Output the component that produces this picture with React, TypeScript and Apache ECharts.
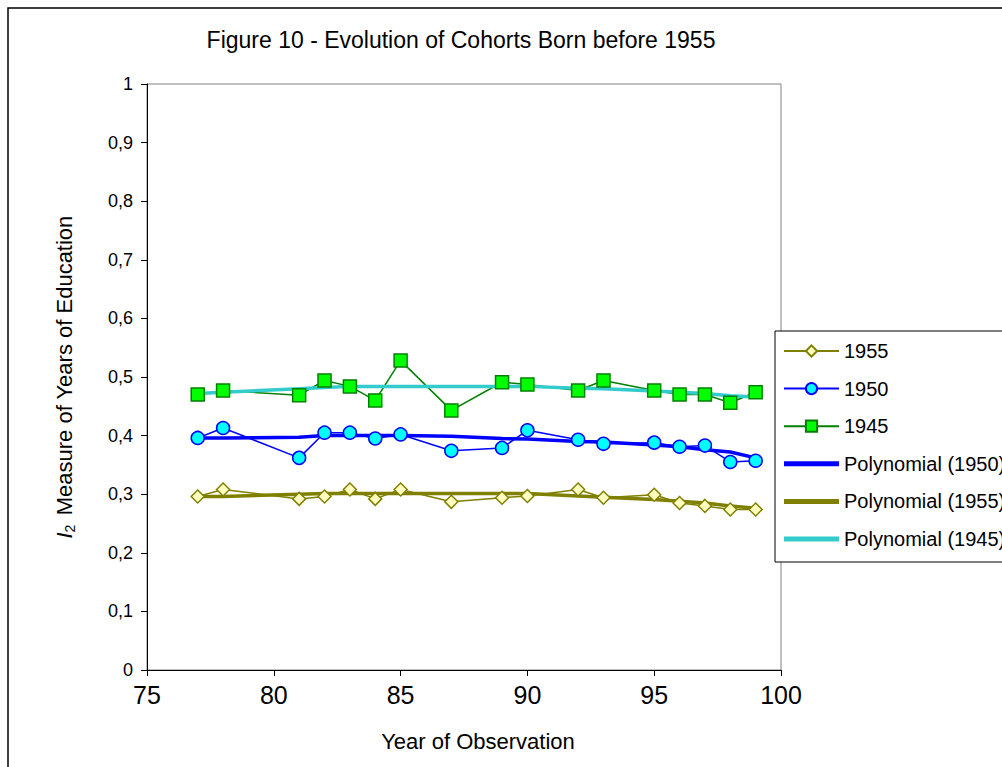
import React, { useEffect, useRef } from "react";
import * as echarts from "echarts";

const years = [77, 78, 81, 82, 83, 84, 85, 87, 89, 90, 92, 93, 95, 96, 97, 98, 99];
const c1955 = [0.296, 0.308, 0.292, 0.296, 0.308, 0.292, 0.308, 0.287, 0.294, 0.297, 0.308, 0.294, 0.299, 0.285, 0.28, 0.274, 0.274];
const c1950 = [0.396, 0.413, 0.362, 0.405, 0.405, 0.395, 0.402, 0.374, 0.379, 0.409, 0.393, 0.386, 0.388, 0.381, 0.383, 0.355, 0.357];
const c1945 = [0.47, 0.477, 0.469, 0.494, 0.484, 0.46, 0.528, 0.443, 0.491, 0.487, 0.477, 0.494, 0.477, 0.47, 0.47, 0.456, 0.474];
const poly1950 = [0.396, 0.396, 0.397, 0.4, 0.4, 0.4, 0.4, 0.399, 0.395, 0.394, 0.39, 0.389, 0.384, 0.381, 0.376, 0.372, 0.362];
const poly1955 = [0.296, 0.296, 0.3, 0.301, 0.301, 0.301, 0.301, 0.301, 0.301, 0.301, 0.297, 0.295, 0.291, 0.288, 0.285, 0.28, 0.276];
const poly1945 = [0.472, 0.474, 0.48, 0.482, 0.484, 0.484, 0.484, 0.484, 0.484, 0.484, 0.481, 0.48, 0.476, 0.474, 0.472, 0.468, 0.466];

const FONT = "'Liberation Sans', Arial, sans-serif";
const BAR_ICON = "path://M0,0 H55 V5 H0 Z";

const legendData = [
  { name: "1955" },
  { name: "1950" },
  { name: "1945" },
  { name: "Polynomial (1950)", icon: BAR_ICON },
  { name: "Polynomial (1955)", icon: BAR_ICON },
  { name: "Polynomial (1945)", icon: BAR_ICON },
];

const pairs = (ys: number[]) => years.map((x, i) => [x, ys[i]]);

export default function App() {
  const ref = useRef<HTMLDivElement>(null);
  useEffect(() => {
    document.body.style.margin = "0";
    const chart = echarts.init(ref.current!, null, { renderer: "svg" });
    chart.setOption({
      animation: false,
      backgroundColor: "#fff",
      textStyle: { fontFamily: FONT, color: "#000" },
      title: {
        text: "Figure 10 - Evolution of Cohorts Born before 1955",
        left: 456,
        top: 23,
        textAlign: "center",
        textStyle: { fontFamily: FONT, fontSize: 23, fontWeight: "normal", color: "#000" },
      },
      graphic: [
        {
          type: "rect",
          shape: { x: 8, y: 8, width: 1100, height: 800 },
          style: { fill: "none", stroke: "#000", lineWidth: 1.5 },
          silent: true,
          z: -10,
        },
      ],
      grid: {
        left: 147,
        top: 84,
        width: 634,
        height: 586,
        show: true,
        borderColor: "#808080",
        borderWidth: 1,
        backgroundColor: "#fff",
      },
      legend: {
        orient: "vertical",
        left: 775,
        top: 331,
        padding: [10, 8, 13, 8],
        data: legendData,
        itemWidth: 55,
        itemHeight: 14,
        itemGap: 17.6,
        borderColor: "#000",
        borderWidth: 1,
        backgroundColor: "#fff",
        textStyle: { fontFamily: FONT, fontSize: 20, color: "#000" },
      },
      xAxis: {
        type: "value",
        min: 75,
        max: 100,
        interval: 5,
        name: "Year of Observation",
        nameLocation: "middle",
        nameGap: 60,
        nameTextStyle: { fontFamily: FONT, fontSize: 22, color: "#000", padding: [0, 0, 0, 28] },
        axisLine: { show: true, onZero: false, lineStyle: { color: "#000", width: 1 } },
        axisTick: { show: true, inside: false, length: 6, lineStyle: { color: "#000" } },
        axisLabel: { fontFamily: FONT, fontSize: 25, color: "#000", margin: 12 },
        splitLine: { show: false },
      },
      yAxis: {
        type: "value",
        min: 0,
        max: 1,
        interval: 0.1,
        name: "{i|I}{s|2} Measure of Years of Education",
        nameLocation: "middle",
        nameGap: 70,
        nameRotate: 90,
        nameTextStyle: {
          fontFamily: FONT,
          fontSize: 22,
          color: "#000",
          rich: {
            i: { fontFamily: FONT, fontSize: 22, fontStyle: "italic", color: "#000" },
            s: { fontFamily: FONT, fontSize: 14, color: "#000", padding: [12, 3, 0, 0] },
          },
        },
        axisLine: { show: true, lineStyle: { color: "#000", width: 1 } },
        axisTick: { show: true, inside: false, length: 6, lineStyle: { color: "#000" } },
        axisLabel: {
          fontFamily: FONT,
          fontSize: 18,
          color: "#000",
          margin: 14,
          formatter: (v: number) => String(Math.round(v * 10) / 10).replace(".", ","),
        },
        splitLine: { show: false },
      },
      series: [
        {
          name: "1955",
          type: "line",
          data: pairs(c1955),
          symbol: "diamond",
          symbolSize: 13,
          lineStyle: { color: "#808000", width: 1.5 },
          itemStyle: { color: "#FFFFC0", borderColor: "#808000", borderWidth: 1.5 },
        },
        {
          name: "1950",
          type: "line",
          data: pairs(c1950),
          symbol: "circle",
          symbolSize: 13,
          lineStyle: { color: "#0000FF", width: 1.5 },
          itemStyle: { color: "#00FFFF", borderColor: "#0000FF", borderWidth: 1.5 },
        },
        {
          name: "1945",
          type: "line",
          data: pairs(c1945),
          symbol: "rect",
          symbolSize: 13,
          lineStyle: { color: "#008000", width: 1.5 },
          itemStyle: { color: "#00FF00", borderColor: "#008000", borderWidth: 1.5 },
        },
        {
          name: "Polynomial (1950)",
          type: "line",
          data: pairs(poly1950),
          symbol: "none",
          lineStyle: { color: "#0000FF", width: 3.5 },
          itemStyle: { color: "#0000FF" },
        },
        {
          name: "Polynomial (1955)",
          type: "line",
          data: pairs(poly1955),
          symbol: "none",
          lineStyle: { color: "#808000", width: 3.5 },
          itemStyle: { color: "#808000" },
        },
        {
          name: "Polynomial (1945)",
          type: "line",
          data: pairs(poly1945),
          symbol: "none",
          lineStyle: { color: "#33CCCC", width: 3.5 },
          itemStyle: { color: "#33CCCC" },
        },
      ],
    });
    return () => chart.dispose();
  }, []);
  return (
    <div
      ref={ref}
      style={{ position: "absolute", left: 0, top: 0, width: 1002, height: 767 }}
    />
  );
}
